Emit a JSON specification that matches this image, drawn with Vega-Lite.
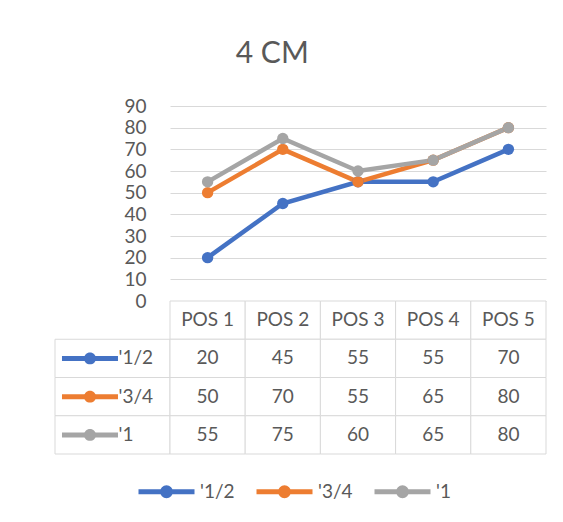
{
  "$schema": "https://vega.github.io/schema/vega-lite/v6.json",
  "padding": {"left": 51, "top": 39, "right": 17, "bottom": 22},
  "background": "white",
  "data": {"values": [
    {"series": "'1/2", "pos": "POS 1", "value": 20},
    {"series": "'1/2", "pos": "POS 2", "value": 45},
    {"series": "'1/2", "pos": "POS 3", "value": 55},
    {"series": "'1/2", "pos": "POS 4", "value": 55},
    {"series": "'1/2", "pos": "POS 5", "value": 70},
    {"series": "'3/4", "pos": "POS 1", "value": 50},
    {"series": "'3/4", "pos": "POS 2", "value": 70},
    {"series": "'3/4", "pos": "POS 3", "value": 55},
    {"series": "'3/4", "pos": "POS 4", "value": 65},
    {"series": "'3/4", "pos": "POS 5", "value": 80},
    {"series": "'1", "pos": "POS 1", "value": 55},
    {"series": "'1", "pos": "POS 2", "value": 75},
    {"series": "'1", "pos": "POS 3", "value": 60},
    {"series": "'1", "pos": "POS 4", "value": 65},
    {"series": "'1", "pos": "POS 5", "value": 80}
  ]},
  "title": {"text": "4 CM", "fontSize": 30, "font": "Lato", "fontWeight": "normal", "color": "#595959", "anchor": "middle", "dx": -27, "offset": 28},
  "config": {"font": "Lato", "view": {"stroke": null}, "text": {"font": "Lato", "fontSize": 19, "color": "#595959"}},
  "columns": 2,
  "spacing": 0,
  "bounds": "flush",
  "resolve": {"scale": {"x": "independent", "y": "independent", "color": "shared"}},
  "concat": [
    {
      "width": 115, "height": 195,
      "data": {"values": [{"spacer": 1}]},
      "mark": {"type": "rect", "fill": "white", "stroke": null},
      "encoding": {}
    },
    {
      "width": 376, "height": 195,
      "encoding": {
        "x": {"field": "pos", "type": "nominal", "scale": {"type": "point", "padding": 0.5}, "axis": null},
        "y": {"field": "value", "type": "quantitative", "scale": {"domain": [0, 90], "nice": false},
              "axis": {"values": [0, 10, 20, 30, 40, 50, 60, 70, 80, 90], "title": null, "domain": false, "ticks": false,
                       "gridColor": "#D9D9D9", "gridWidth": 1, "labelColor": "#595959", "labelFontSize": 19, "labelFont": "Lato", "labelPadding": 24}},
        "color": {"field": "series", "type": "nominal",
                  "scale": {"domain": ["'1/2", "'3/4", "'1"], "range": ["#4472C4", "#ED7D31", "#A5A5A5"]},
                  "legend": {"orient": "none", "legendX": 81, "legendY": 355, "direction": "horizontal", "title": null, "padding": 0,
                             "symbolType": "M-1,0H1M0.143,0A0.143,0.143,0,1,1,-0.143,0A0.143,0.143,0,1,1,0.143,0Z",
                             "symbolSize": 3136, "symbolStrokeWidth": 5, "symbolOpacity": 1,
                             "labelFontSize": 19, "labelFont": "Lato", "labelColor": "#595959", "labelOffset": 3, "columnPadding": 11,
                             "encode": {"symbols": {"update": {"fill": {"scale": "color", "field": "value"}, "stroke": {"scale": "color", "field": "value"}}}}}}
      },
      "layer": [
        {"mark": {"type": "line", "strokeWidth": 4.5}},
        {"mark": {"type": "point", "filled": true, "size": 130, "opacity": 1}}
      ]
    },
    {
      "width": 115, "height": 153,
      "transform": [{"aggregate": [], "groupby": ["series"]}],
      "encoding": {
        "y": {"field": "series", "type": "nominal", "scale": {"domain": ["hdr", "'1/2", "'3/4", "'1"], "paddingInner": 0, "paddingOuter": 0}, "axis": null}
      },
      "layer": [
        {"mark": {"type": "rect", "fill": "white", "stroke": "#D9D9D9", "strokeWidth": 1}},
        {"mark": {"type": "point", "shape": "M-1.804,0H0.196", "size": 3136, "filled": false, "strokeWidth": 5, "opacity": 1},
         "encoding": {"color": {"field": "series", "type": "nominal", "legend": null}}},
        {"mark": {"type": "point", "shape": "M-0.59,0A0.214,0.214,0,1,1,-1.018,0A0.214,0.214,0,1,1,-0.59,0Z", "size": 3136, "filled": true, "opacity": 1},
         "encoding": {"color": {"field": "series", "type": "nominal", "legend": null}}},
        {"mark": {"type": "text", "align": "left", "dx": 6, "fontSize": 19, "color": "#595959"},
         "encoding": {"text": {"field": "series"}}}
      ]
    },
    {
      "width": 376, "height": 153,
      "layer": [
        {
          "transform": [{"aggregate": [], "groupby": ["pos"]}],
          "mark": {"type": "rect", "fill": "white", "stroke": "#D9D9D9", "strokeWidth": 1},
          "encoding": {
            "x": {"field": "pos", "type": "nominal", "scale": {"paddingInner": 0, "paddingOuter": 0}, "axis": null},
            "y": {"datum": "hdr", "type": "nominal", "scale": {"domain": ["hdr", "'1/2", "'3/4", "'1"], "paddingInner": 0, "paddingOuter": 0}, "axis": null}
          }
        },
        {
          "transform": [{"aggregate": [], "groupby": ["pos"]}],
          "mark": {"type": "text", "fontSize": 19, "color": "#595959"},
          "encoding": {
            "x": {"field": "pos", "type": "nominal"},
            "y": {"datum": "hdr", "type": "nominal"},
            "text": {"field": "pos"}
          }
        },
        {
          "mark": {"type": "rect", "fill": "white", "stroke": "#D9D9D9", "strokeWidth": 1},
          "encoding": {
            "x": {"field": "pos", "type": "nominal"},
            "y": {"field": "series", "type": "nominal"}
          }
        },
        {
          "mark": {"type": "text", "fontSize": 19, "color": "#595959"},
          "encoding": {
            "x": {"field": "pos", "type": "nominal"},
            "y": {"field": "series", "type": "nominal"},
            "text": {"field": "value", "type": "quantitative"}
          }
        }
      ]
    }
  ]
}
